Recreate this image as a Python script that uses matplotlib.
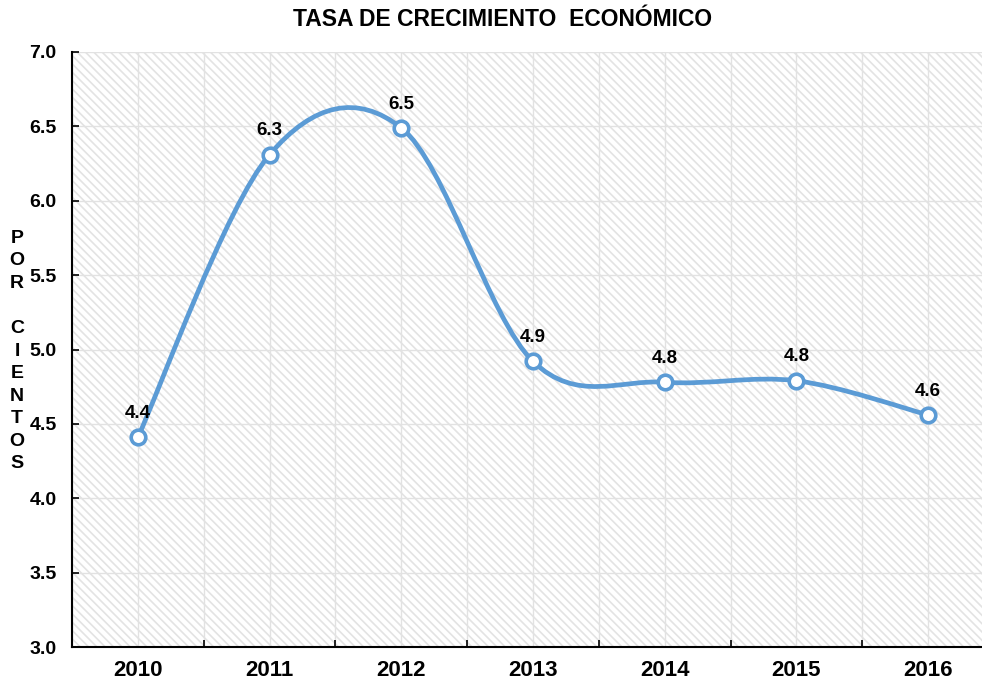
import numpy as np
import matplotlib.pyplot as plt
from matplotlib.path import Path
from matplotlib.patches import PathPatch, Rectangle

plt.rcParams['font.family'] = ['Liberation Sans', 'DejaVu Sans']
plt.rcParams['font.weight'] = 'bold'
plt.rcParams['hatch.linewidth'] = 1.2

years = ['2010', '2011', '2012', '2013', '2014', '2015', '2016']
tasa = [4.41, 6.31, 6.49, 4.92, 4.78, 4.79, 4.56]
etiquetas = ['4.4', '6.3', '6.5', '4.9', '4.8', '4.8', '4.6']

azul = '#5B9BD5'

fig = plt.figure(figsize=(9.82, 6.83), dpi=100)
ax = fig.add_axes([72/982, 36/683, 922/982, 595/683])

x = np.arange(len(years))
y = np.array(tasa)

# fondo rayado
ax.add_patch(Rectangle((0, 0), 1, 1, transform=ax.transAxes, facecolor='white',
                       edgecolor='#e3e3e3', hatch='\\\\\\\\', lw=0, zorder=0))

ax.set_xlim(-0.5, len(years) - 0.5)
ax.set_ylim(3.0, 7.0)

# linea suavizada tipo Excel (bezier)
xp = np.concatenate([[x[0]], x, [x[-1]]])
yp = np.concatenate([[y[0]], y, [y[-1]]])
verts = [(x[0], y[0])]
codes = [Path.MOVETO]
for i in range(1, len(xp) - 2):
    c1 = (xp[i] + (xp[i+1] - xp[i-1]) / 6, yp[i] + (yp[i+1] - yp[i-1]) / 6)
    c2 = (xp[i+1] - (xp[i+2] - xp[i]) / 6, yp[i+1] - (yp[i+2] - yp[i]) / 6)
    verts += [c1, c2, (xp[i+1], yp[i+1])]
    codes += [Path.CURVE4] * 3
ax.add_patch(PathPatch(Path(verts, codes), facecolor='none', edgecolor=azul,
                       lw=3.4, capstyle='round', zorder=3))
ax.plot(x, y, linestyle='none', marker='o', ms=10.5, mfc='white', mec=azul,
        mew=2.6, zorder=4)

for xi, yi, t in zip(x, y, etiquetas):
    ax.annotate(t, (xi, yi), xytext=(0, 11), textcoords='offset points',
                ha='center', va='bottom', fontsize=13.5, fontweight='bold')

ax.set_yticks(np.arange(3.0, 7.01, 0.5))
ax.set_yticklabels([f'{v:.1f}' for v in np.arange(3.0, 7.01, 0.5)], fontsize=14)
ax.set_xticks(x)
ax.set_xticklabels(years, fontsize=16)
ax.set_xticks(np.arange(-0.5, len(years), 1.0), minor=True)
ax.tick_params(axis='x', which='major', length=0, pad=9)
ax.tick_params(axis='x', which='minor', direction='in', length=5, width=1.2)
ax.tick_params(axis='y', direction='in', length=5, width=1.2, pad=11)

ax.grid(True, which='both', axis='x', color='#e2e2e2', lw=1, zorder=1)
ax.grid(True, which='major', axis='y', color='#e2e2e2', lw=1, zorder=1)
ax.set_axisbelow(True)

for s in ['top', 'right']:
    ax.spines[s].set_visible(False)
for s in ['left', 'bottom']:
    ax.spines[s].set_linewidth(1.5)

fig.text(503/982, 1 - 19/683, 'TASA DE CRECIMIENTO  ECONÓMICO', ha='center',
         va='center', fontsize=16.5, fontweight='bold')
fig.text(17/982, 1 - 351/683, 'P\nO\nR\n\nC\nI\nE\nN\nT\nO\nS', ha='center',
         va='center', fontsize=14, fontweight='bold', linespacing=1.43)

fig.savefig('out.png', dpi=100)
